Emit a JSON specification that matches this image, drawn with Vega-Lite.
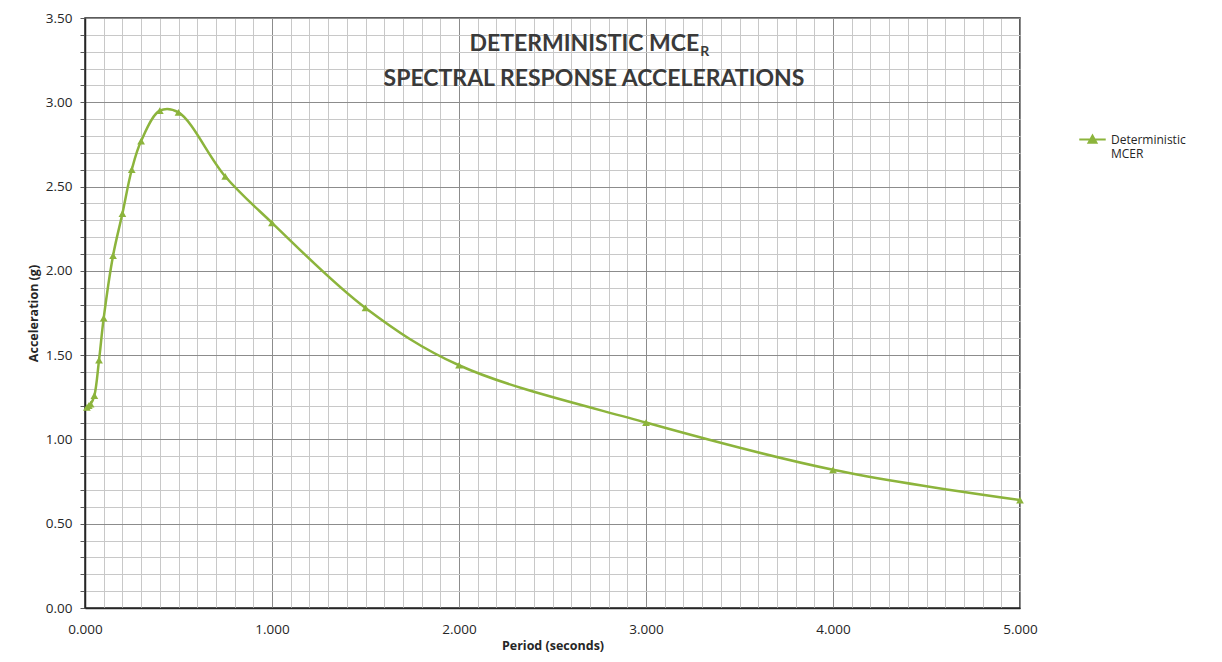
{
  "$schema": "https://vega.github.io/schema/vega-lite/v6.json",
  "width": 935,
  "height": 590,
  "autosize": {"type": "none"},
  "padding": {"left": 85, "top": 18, "right": 202, "bottom": 54},
  "background": "white",
  "config": {
    "font": "Open Sans",
    "view": {"stroke": "#262626", "strokeWidth": 1.5}
  },
  "data": {
    "values": [
      {"period": 0.01, "accel": 1.19},
      {"period": 0.02, "accel": 1.2},
      {"period": 0.03, "accel": 1.21},
      {"period": 0.05, "accel": 1.26},
      {"period": 0.075, "accel": 1.47},
      {"period": 0.1, "accel": 1.72},
      {"period": 0.15, "accel": 2.09},
      {"period": 0.2, "accel": 2.34},
      {"period": 0.25, "accel": 2.6},
      {"period": 0.3, "accel": 2.77},
      {"period": 0.4, "accel": 2.95},
      {"period": 0.5, "accel": 2.94},
      {"period": 0.75, "accel": 2.56},
      {"period": 1.0, "accel": 2.285},
      {"period": 1.5, "accel": 1.78},
      {"period": 2.0, "accel": 1.44},
      {"period": 3.0, "accel": 1.1},
      {"period": 4.0, "accel": 0.82},
      {"period": 5.0, "accel": 0.64}
    ]
  },
  "layer": [
    {
      "mark": {"type": "line", "interpolate": "catmull-rom", "strokeWidth": 2.5},
      "encoding": {
        "x": {
          "field": "period", "type": "quantitative",
          "scale": {"domain": [0, 5], "nice": false, "zero": true},
          "axis": {
            "values": [0,0.1,0.2,0.3,0.4,0.5,0.6,0.7,0.8,0.9,1,1.1,1.2,1.3,1.4,1.5,1.6,1.7,1.8,1.9,2,2.1,2.2,2.3,2.4,2.5,2.6,2.7,2.8,2.9,3,3.1,3.2,3.3,3.4,3.5,3.6,3.7,3.8,3.9,4,4.1,4.2,4.3,4.4,4.5,4.6,4.7,4.8,4.9,5],
            "tickCount": 200,
            "labelExpr": "datum.value % 1 == 0 ? format(datum.value, '.3f') : ''",
            "labelFlush": false,
            "labelOverlap": false,
            "labelFontSize": 13.5,
            "labelColor": "#262626",
            "labelPadding": 14,
            "ticks": false,
            "domainColor": "#262626",
            "domainWidth": 1.5,
            "grid": true,
            "gridColor": {"condition": {"test": "datum.value % 1 == 0", "value": "#8c8c8c"}, "value": "#c8c8c8"},
            "gridWidth": 1,
            "title": "Period (seconds)",
            "titleFont": "Open Sans",
            "titleFontSize": 12.5,
            "titleFontWeight": "bold",
            "titleColor": "#262626",
            "titlePadding": 4
          }
        },
        "y": {
          "field": "accel", "type": "quantitative",
          "scale": {"domain": [0, 3.5], "nice": false},
          "axis": {
            "values": [0,0.1,0.2,0.3,0.4,0.5,0.6,0.7,0.8,0.9,1,1.1,1.2,1.3,1.4,1.5,1.6,1.7,1.8,1.9,2,2.1,2.2,2.3,2.4,2.5,2.6,2.7,2.8,2.9,3,3.1,3.2,3.3,3.4,3.5],
            "tickCount": 200,
            "labelExpr": "(datum.value * 2) % 1 == 0 ? format(datum.value, '.2f') : ''",
            "labelFlush": false,
            "labelOverlap": false,
            "labelFontSize": 13.5,
            "labelColor": "#262626",
            "labelPadding": 8,
            "tickSize": 5,
            "tickColor": "#595959",
            "domainColor": "#262626",
            "domainWidth": 1.5,
            "grid": true,
            "gridColor": {"condition": {"test": "(datum.value * 2) % 1 == 0", "value": "#8c8c8c"}, "value": "#c8c8c8"},
            "gridWidth": 1,
            "title": "Acceleration (g)",
            "titleFont": "Open Sans",
            "titleFontSize": 12.5,
            "titleFontWeight": "bold",
            "titleColor": "#262626",
            "titlePadding": 5
          }
        },
        "color": {
          "datum": "Deterministic MCER",
          "type": "nominal",
          "scale": {"range": ["#8cb43c"]},
          "legend": {
            "title": null,
            "orient": "none",
            "legendX": 993,
            "legendY": 107,
            "symbolType": "M-1,0H1M-0.3,0.25L0,-0.3L0.3,0.25Z",
            "symbolSize": 700,
            "symbolStrokeWidth": 2,
            "symbolFillColor": "#8cb43c",
            "labelExpr": "['Deterministic', 'MCER']",
            "labelFontSize": 12,
            "labelColor": "#262626",
            "labelBaseline": "middle",
            "labelOffset": 4
          }
        }
      }
    },
    {
      "mark": {"type": "point", "shape": "triangle-up", "filled": true, "size": 60, "opacity": 1},
      "encoding": {
        "x": {"field": "period", "type": "quantitative"},
        "y": {"field": "accel", "type": "quantitative"},
        "color": {"datum": "Deterministic MCER", "type": "nominal"}
      }
    },
    {
      "data": {"values": [{}]},
      "mark": {"type": "text", "text": "DETERMINISTIC MCE", "align": "right", "baseline": "alphabetic", "font": "Lato", "fontWeight": "bold", "fontSize": 23, "color": "#3a3a3a"},
      "encoding": {"x": {"datum": 3.285}, "y": {"datum": 3.305}}
    },
    {
      "data": {"values": [{}]},
      "mark": {"type": "text", "text": "R", "align": "left", "baseline": "alphabetic", "font": "Lato", "fontWeight": "bold", "fontSize": 14, "color": "#3a3a3a", "dx": 1},
      "encoding": {"x": {"datum": 3.285}, "y": {"datum": 3.275}}
    },
    {
      "data": {"values": [{}]},
      "mark": {"type": "text", "text": "SPECTRAL RESPONSE ACCELERATIONS", "align": "center", "baseline": "alphabetic", "font": "Lato", "fontWeight": "bold", "fontSize": 23, "color": "#3a3a3a"},
      "encoding": {"x": {"datum": 2.722}, "y": {"datum": 3.095}}
    }
  ]
}
